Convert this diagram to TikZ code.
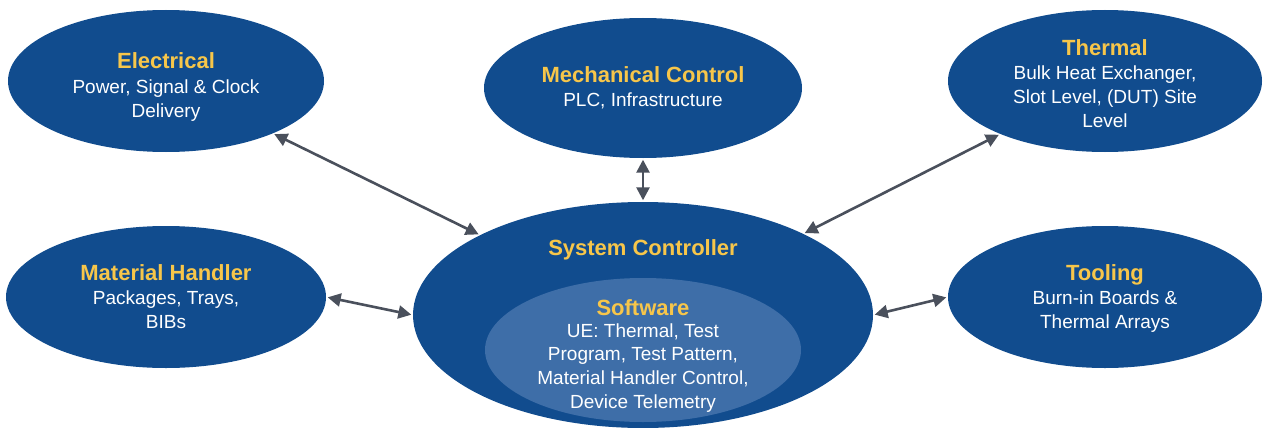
\documentclass[tikz,border=0pt]{standalone}
\usepackage{fontspec}
\setmainfont{Liberation Sans}
\usetikzlibrary{shapes.geometric,arrows.meta}
\definecolor{dblue}{RGB}{17,76,142}
\definecolor{lblue}{RGB}{62,110,168}
\definecolor{ttl}{RGB}{247,198,74}
\definecolor{arr}{RGB}{74,80,92}
\tikzset{
  oval/.style={ellipse, fill=dblue, draw=none, inner sep=0pt},
  ttext/.style={text=ttl, font=\fontsize{22}{26}\selectfont\bfseries, anchor=base, inner sep=0pt},
  btext/.style={text=white, font=\fontsize{19}{23.6}\selectfont, align=center, anchor=base, inner sep=0pt},
  link/.style={draw=arr, line width=2.6pt, {Triangle[length=13pt,width=13pt]}-{Triangle[length=13pt,width=13pt]}, shorten <=1.5pt, shorten >=1.5pt}
}
\begin{document}
\begin{tikzpicture}[x=1pt,y=-1pt]
\useasboundingbox (0,0) rectangle (1268,428);
\node[oval, minimum width=316pt, minimum height=142pt] (elec) at (166,81) {};
\node[oval, minimum width=318pt, minimum height=140pt] (mech) at (643,88) {};
\node[oval, minimum width=314pt, minimum height=142pt] (therm) at (1105,81) {};
\node[oval, minimum width=320pt, minimum height=142pt] (mh) at (166,297) {};
\node[oval, minimum width=314pt, minimum height=142pt] (tool) at (1105,297) {};
\node[oval, minimum width=460pt, minimum height=226pt] (sc) at (643,315) {};
\node[ellipse, fill=lblue, inner sep=0pt, minimum width=316pt, minimum height=144pt] (sw) at (643,350) {};

% multi-line text nodes are anchored at the baseline of their last line
\node[ttext] (elecT) at (166,68) {Electrical};
\node[btext] (elecB) at (166,117) {Power, Signal \& Clock\\Delivery};
\node[ttext] (mechT) at (643,82) {Mechanical Control};
\node[btext] (mechB) at (643,106) {PLC, Infrastructure};
\node[ttext] (thermT) at (1105,56) {Thermal};
\node[btext] (thermB) at (1105,127) {Bulk Heat Exchanger,\\Slot Level, (DUT) Site\\Level};
\node[ttext] (mhT) at (166,280) {Material Handler};
\node[btext] (mhB) at (166,328) {Packages, Trays,\\BIBs};
\node[ttext] (toolT) at (1105,280) {Tooling};
\node[btext] (toolB) at (1105,328) {Burn-in Boards \&\\Thermal Arrays};
\node[ttext] (scT) at (643,255) {System Controller};
\node[ttext] (swT) at (643,315) {Software};
\node[btext] (swB) at (643,408) {UE: Thermal, Test\\Program, Test Pattern,\\Material Handler Control,\\Device Telemetry};

\draw[link] (elec) -- (sc);
\draw[link] (mech) -- (sc);
\draw[link] (therm) -- (sc);
\draw[link] (mh.east) -- (sc.west);
\draw[link] (sc.east) -- (tool.west);
\end{tikzpicture}
\end{document}
